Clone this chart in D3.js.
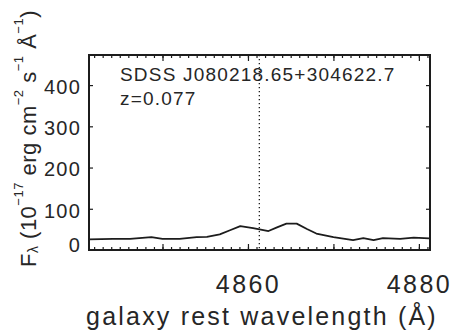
<!DOCTYPE html>
<html>
<head>
<meta charset="utf-8">
<script src="https://cdn.jsdelivr.net/npm/d3@7"></script>
<style>
  html, body { margin: 0; padding: 0; background: #fff; }
  svg { display: block; }
  text { font-family: "Liberation Sans", Arial, sans-serif; fill: #262626; }
</style>
</head>
<body>
<svg id="chart" width="454" height="336"></svg>
<script>
// Rest-frame spectrum around H-beta
const wavelength = [4841.4, 4844.2, 4846.2, 4848.7, 4850.0, 4852.0, 4854.0, 4855.2,
  4856.7, 4857.9, 4859.1, 4860.6, 4862.4, 4863.4, 4864.5, 4865.7, 4866.9, 4868.0,
  4870.0, 4872.3, 4873.5, 4874.7, 4875.8, 4877.8, 4879.4, 4881.2];
const flux = [26, 27, 27, 31, 27, 27, 31, 32,
  38, 48, 58, 53, 46, 55, 64, 64, 51, 40,
  31, 24, 29, 24, 29, 27, 30, 28];

const xMajorTicks = [4850, 4860, 4870, 4880];
const xLabelledTicks = [4860, 4880];
const xMinorTicks = d3.range(4842, 4882, 1);
const yTicks = [0, 100, 200, 300, 400];
const hBetaRest = 4861.33;

const objectName = "SDSS J080218.65+304622.7";
const redshiftLabel = "z=0.077";

const svg = d3.select("#chart");
const plotLeft = 89, plotRight = 430, plotTop = 55, plotBottom = 250;

const x = d3.scaleLinear().domain([4841.4, 4881.3]).range([plotLeft, plotRight]);
const y = d3.scaleLinear().domain([0, 473]).range([plotBottom, plotTop]);

const ink = "#1c1c1c";
const textInk = "#262626";

// plot frame
svg.append("rect")
  .attr("x", plotLeft).attr("y", plotTop)
  .attr("width", plotRight - plotLeft).attr("height", plotBottom - plotTop)
  .attr("fill", "none").attr("stroke", ink).attr("stroke-width", 2);

function styleAxis(g) {
  g.select(".domain").remove();
  g.selectAll(".tick line").attr("stroke", ink).attr("stroke-width", 1.2);
}

// bottom axis: major + minor ticks pointing inward
svg.append("g").attr("transform", `translate(0,${plotBottom})`)
  .call(d3.axisBottom(x).tickValues(xMinorTicks).tickSizeInner(-3).tickSizeOuter(0).tickFormat(""))
  .call(styleAxis);
const xb = svg.append("g").attr("transform", `translate(0,${plotBottom})`)
  .call(d3.axisBottom(x).tickValues(xMajorTicks).tickSizeInner(-6).tickSizeOuter(0)
    .tickFormat(d => xLabelledTicks.includes(d) ? String(d) : ""))
  .call(styleAxis);
xb.selectAll(".tick text")
  .attr("y", 43).attr("dy", 0)
  .attr("font-size", 25).attr("letter-spacing", 2.4)
  .style("fill", textInk);

// top axis mirror
svg.append("g").attr("transform", `translate(0,${plotTop})`)
  .call(d3.axisTop(x).tickValues(xMinorTicks).tickSizeInner(-3).tickSizeOuter(0).tickFormat(""))
  .call(styleAxis);
svg.append("g").attr("transform", `translate(0,${plotTop})`)
  .call(d3.axisTop(x).tickValues(xMajorTicks).tickSizeInner(-6).tickSizeOuter(0).tickFormat(""))
  .call(styleAxis);

// left axis
const yl = svg.append("g").attr("transform", `translate(${plotLeft},0)`)
  .call(d3.axisLeft(y).tickValues(yTicks).tickSizeInner(-4).tickSizeOuter(0).tickPadding(8))
  .call(styleAxis);
yl.selectAll(".tick text")
  .attr("font-size", 20).attr("letter-spacing", 1.2)
  .attr("dy", d => d === 0 ? "0.05em" : "0.42em")
  .style("fill", textInk);
yl.selectAll(".tick").filter(d => d === 0).select("line").remove();

// right axis mirror
svg.append("g").attr("transform", `translate(${plotRight},0)`)
  .call(d3.axisRight(y).tickValues(yTicks.filter(d => d > 0)).tickSizeInner(-4).tickSizeOuter(0).tickFormat(""))
  .call(styleAxis);

// H-beta rest wavelength marker
svg.append("line")
  .attr("x1", x(hBetaRest)).attr("x2", x(hBetaRest))
  .attr("y1", plotTop).attr("y2", plotBottom)
  .attr("stroke", ink).attr("stroke-width", 1.3)
  .attr("stroke-dasharray", "1.3,2.7");

// spectrum
const pts = wavelength.map((w, i) => [w, flux[i]]);
svg.append("path")
  .datum(pts)
  .attr("fill", "none").attr("stroke", ink).attr("stroke-width", 1.8)
  .attr("stroke-linejoin", "round")
  .attr("d", d3.line().x(d => x(d[0])).y(d => y(d[1])));

// object annotation
svg.append("text").attr("x", 120).attr("y", 81)
  .attr("font-size", 19).attr("letter-spacing", 1.2).text(objectName);
svg.append("text").attr("x", 120).attr("y", 105)
  .attr("font-size", 19).attr("letter-spacing", 1.2).text(redshiftLabel);

// x axis title
svg.append("text").attr("x", 262).attr("y", 325)
  .attr("text-anchor", "middle")
  .attr("font-size", 25).attr("letter-spacing", 2.2)
  .text("galaxy rest wavelength (Å)");

// y axis title with sub/superscripts
const yt = svg.append("text")
  .attr("transform", "translate(36,138.5) rotate(-90)")
  .attr("text-anchor", "middle")
  .attr("font-size", 22).attr("letter-spacing", 0.5);
const parts = [
  ["F", 0, 22], ["λ", 2, 14], [" (10", -2, 22], ["−17", -13, 13], [" erg cm", 13, 22],
  ["−2", -13, 13], [" s", 13, 22], ["−1", -13, 13], [" Å", 13, 22], ["−1", -13, 13], [")", 13, 22]
];
parts.forEach(([t, dy, fs]) => {
  yt.append("tspan").attr("dy", dy).attr("font-size", fs).text(t);
});
</script>
</body>
</html>
